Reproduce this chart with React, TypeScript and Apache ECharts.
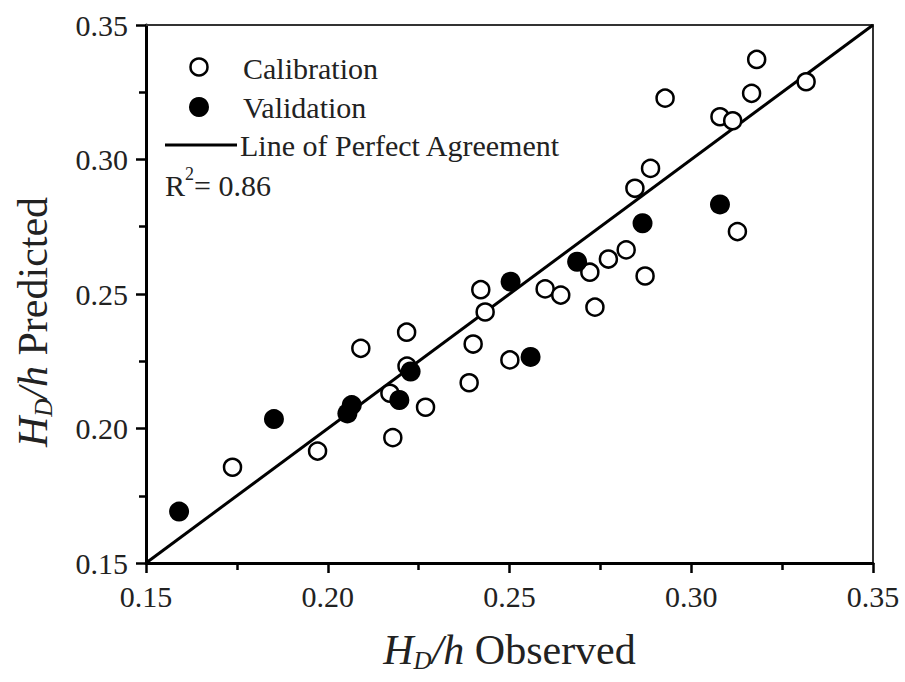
import React, { useEffect, useRef } from "react";
import * as echarts from "echarts";

// Calibration set: observed vs predicted H_D/h
const calibrationObserved = [
  0.1738, 0.1972, 0.2091, 0.2217, 0.2218, 0.2171, 0.2179, 0.2269, 0.2389, 0.24,
  0.2421, 0.2433, 0.2501, 0.2598, 0.2641, 0.2735, 0.2721, 0.2772, 0.2821, 0.2873,
  0.2845, 0.2888, 0.2928, 0.3079, 0.3114, 0.3127, 0.3166, 0.318, 0.3316,
];
const calibrationPredicted = [
  0.1856, 0.1916, 0.2298, 0.2358, 0.2232, 0.2131, 0.1966, 0.2079, 0.217, 0.2314,
  0.2516, 0.2433, 0.2255, 0.2519, 0.2496, 0.2451, 0.2581, 0.263, 0.2664, 0.2567,
  0.2893, 0.2967, 0.3228, 0.3159, 0.3144, 0.2732, 0.3246, 0.3372, 0.3289,
];

// Validation set: observed vs predicted H_D/h
const validationObserved = [
  0.1591, 0.1852, 0.2054, 0.2066, 0.2197, 0.2228, 0.2503, 0.2558, 0.2686, 0.2866, 0.3079,
];
const validationPredicted = [
  0.1691, 0.2035, 0.2056, 0.2087, 0.2106, 0.2212, 0.2546, 0.2266, 0.262, 0.2763, 0.2833,
];

const agreementLine = [0.15, 0.35];
const axisMin = 0.15;
const axisMax = 0.35;
const axisStep = 0.05;
const r2Value = "0.86";

const FONT = "'Liberation Serif', 'Times New Roman', serif";
const INK = "#000";
const TEXT = "#222";

const zip = (a: number[], b: number[]) => a.map((v, i) => [v, b[i]]);

export default function App() {
  const ref = useRef<HTMLDivElement>(null);

  useEffect(() => {
    if (!ref.current) return;
    document.body.style.margin = "0";
    const chart = echarts.init(ref.current, undefined, { renderer: "svg" });

    const valueAxis = {
      type: "value",
      min: axisMin,
      max: axisMax,
      interval: axisStep,
      axisLine: { show: true, onZero: false, lineStyle: { color: INK, width: 3 } },
      axisTick: { show: true, inside: false, length: 10, lineStyle: { color: INK, width: 2.5 } },
      minorTick: { show: true, splitNumber: 2, length: 7, lineStyle: { color: INK, width: 2.5 } },
      splitLine: { show: false },
      axisLabel: {
        fontFamily: FONT,
        fontSize: 30,
        color: TEXT,
        formatter: (v: number) => v.toFixed(2),
      },
    };
    const frameAxis = {
      type: "value",
      min: axisMin,
      max: axisMax,
      interval: axisStep,
      axisLine: { show: true, onZero: false, lineStyle: { color: "#333", width: 2 } },
      axisTick: { show: false },
      axisLabel: { show: false },
      splitLine: { show: false },
    };

    const xTitleRich = {
      i: { fontFamily: FONT, fontStyle: "italic", fontSize: 42, color: TEXT, lineHeight: 46 },
      sub: { fontFamily: FONT, fontStyle: "italic", fontSize: 25, color: TEXT, lineHeight: 14, verticalAlign: "bottom" },
      n: { fontFamily: FONT, fontSize: 42, color: TEXT, lineHeight: 46 },
    };
    const yTitleRich = {
      i: { fontFamily: FONT, fontStyle: "italic", fontSize: 42, fill: TEXT, lineHeight: 46 },
      sub: { fontFamily: FONT, fontStyle: "italic", fontSize: 25, fill: TEXT, lineHeight: 14, verticalAlign: "bottom" },
      n: { fontFamily: FONT, fontSize: 42, fill: TEXT, lineHeight: 46 },
    };
    const legendFont = { fontFamily: FONT, fontSize: 30, fill: TEXT, verticalAlign: "middle" };

    chart.setOption({
      animation: false,
      backgroundColor: "#fff",
      grid: { left: 146, right: 32, top: 25, bottom: 119, containLabel: false, outerBoundsMode: "none" },
      xAxis: [
        {
          ...valueAxis,
          axisLabel: { ...valueAxis.axisLabel, margin: 18 },
          name: "{i|H}{sub|D}{i|/h}{n| Observed}",
          nameLocation: "middle",
          nameGap: 64,
          nameTextStyle: { rich: xTitleRich },
        },
        { ...frameAxis, position: "top" },
      ],
      yAxis: [
        {
          ...valueAxis,
          axisLabel: { ...valueAxis.axisLabel, margin: 18 },
        },
        { ...frameAxis, position: "right" },
      ],
      series: [
        {
          name: "Line of Perfect Agreement",
          type: "line",
          data: agreementLine.map((v) => [v, v]),
          symbol: "none",
          lineStyle: { color: INK, width: 3 },
          z: 1,
        },
        {
          name: "Calibration",
          type: "scatter",
          data: zip(calibrationObserved, calibrationPredicted),
          symbol: "circle",
          symbolSize: 17,
          itemStyle: { color: "#fff", borderColor: INK, borderWidth: 2.5, opacity: 1 },
          z: 2,
        },
        {
          name: "Validation",
          type: "scatter",
          data: zip(validationObserved, validationPredicted),
          symbol: "circle",
          symbolSize: 20,
          itemStyle: { color: INK, opacity: 1 },
          z: 3,
        },
      ],
      graphic: [
        // y-axis title, reading bottom to top
        {
          type: "text",
          x: 33,
          y: 322,
          rotation: Math.PI / 2,
          style: {
            text: "{i|H}{sub|D}{i|/h}{n| Predicted}",
            align: "center",
            verticalAlign: "middle",
            rich: yTitleRich,
          },
        },
        // legend
        { type: "circle", shape: { cx: 199, cy: 67, r: 8.5 }, style: { fill: "#fff", stroke: INK, lineWidth: 2.5 } },
        { type: "circle", shape: { cx: 199, cy: 107, r: 10 }, style: { fill: INK } },
        { type: "line", shape: { x1: 165, y1: 145, x2: 237, y2: 145 }, style: { stroke: INK, lineWidth: 3 } },
        { type: "text", x: 243, y: 68, style: { text: "Calibration", ...legendFont } },
        { type: "text", x: 243, y: 107, style: { text: "Validation", ...legendFont } },
        { type: "text", x: 240, y: 145, style: { text: "Line of Perfect Agreement", ...legendFont } },
        {
          type: "text",
          x: 165,
          y: 185,
          style: {
            text: `{a|R}{s|2}{a|= ${r2Value}}`,
            verticalAlign: "middle",
            rich: {
              a: { fontFamily: FONT, fontSize: 30, fill: TEXT, lineHeight: 34 },
              s: { fontFamily: FONT, fontSize: 18, fill: TEXT, lineHeight: 40, verticalAlign: "top" },
            },
          },
        },
      ],
    });

    return () => chart.dispose();
  }, []);

  return <div ref={ref} style={{ width: 905, height: 682 }} />;
}
